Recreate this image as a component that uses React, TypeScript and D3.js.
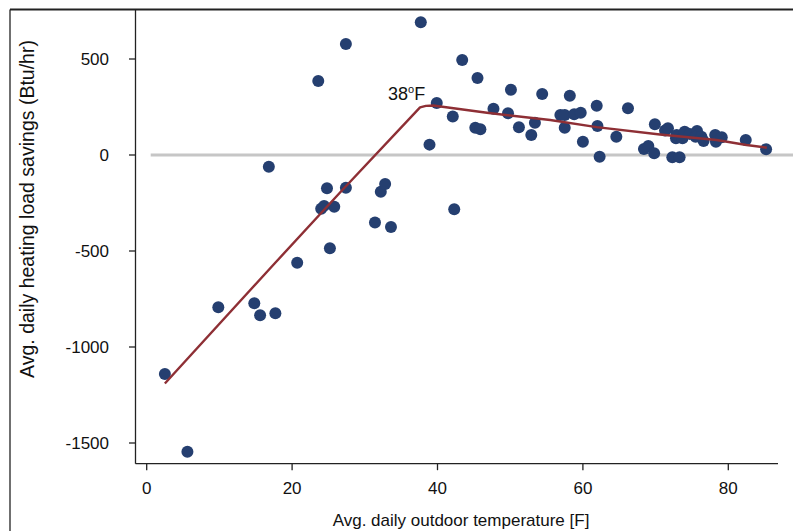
import React from "react";
import * as d3 from "d3";

const tempX: number[] = [
  2.5, 5.6, 9.85, 14.8, 15.6, 17.7, 20.7, 25.2, 16.8, 23.6, 27.4, 24.8, 27.4,
  24.0, 24.4, 25.8, 31.4, 32.2, 32.8, 33.6, 37.7, 43.4, 45.5, 39.9, 42.1, 38.9,
  42.3, 45.2, 45.9, 47.7, 50.1, 49.7, 51.2, 53.4, 52.9, 54.4, 56.9, 57.5, 57.5,
  58.8, 59.7, 58.2, 60.0, 61.9, 62.0, 62.3, 64.6, 66.2, 68.4, 69.0, 69.8, 69.9,
  71.3, 71.7, 72.3, 73.3, 72.8, 72.9, 73.7, 74.0, 74.7, 75.7, 75.5, 76.6, 76.3,
  78.2, 78.3, 79.1, 82.4, 85.2,
];
const savingsY: number[] = [
  -1141, -1545, -793, -772, -835, -824, -561, -486, -61, 385, 578, -173, -170,
  -280, -265, -270, -351, -191, -151, -375, 691, 495, 401, 271, 201, 54, -283,
  142, 134, 241, 340, 217, 144, 168, 104, 318, 208, 208, 142, 212, 220, 309, 69,
  257, 151, -9, 95, 243, 31, 47, 9, 160, 127, 139, -12, -12, 87, 104, 87, 121,
  110, 125, 95, 73, 95, 104, 69, 92, 78, 30,
];

const fitX: number[] = [2.5, 17.4, 26.5, 37.6, 38.4, 39.4, 46.8, 55.5, 61.9, 70.6, 78.4, 82.5, 85.3];
const fitY: number[] = [-1190, -573, -199, 248, 256, 258, 220, 182, 145, 107, 78, 52, 38];

const xTicks: number[] = [0, 20, 40, 60, 80];
const yTicks: number[] = [500, 0, -500, -1000, -1500];

const xTitle = "Avg. daily outdoor temperature [F]";
const yTitle = "Avg. daily heating load savings (Btu/hr)";

export default function App() {
  const W = 793;
  const H = 531;
  const left = 135.5;
  const right = 778;
  const top = 9.5;
  const bottom = 463.7;

  const x = d3.scaleLinear().domain([0, 80]).range([146.7, 728.3]);
  const y = d3.scaleLinear().domain([500, -1500]).range([59, 443]);

  const line = d3
    .line<number>()
    .x((_, i) => x(fitX[i]))
    .y((_, i) => y(fitY[i]));

  const font = "'Liberation Sans', Arial, Helvetica, sans-serif";
  const navy = "#253f70";

  return (
    <svg
      width={W}
      height={H}
      style={{ position: "absolute", left: 0, top: 0, background: "#fff" }}
      fontFamily={font}
    >
      <rect x={0} y={0} width={W} height={H} fill="#fff" />
      {/* outer frame */}
      <line x1={10} y1={9.5} x2={W} y2={9.5} stroke="#222" strokeWidth={2} />
      <line x1={10} y1={9.5} x2={10} y2={H} stroke="#222" strokeWidth={1.3} />

      {/* zero reference line */}
      <line
        x1={x(0.55)}
        x2={W}
        y1={y(0)}
        y2={y(0)}
        stroke="#c6c6c6"
        strokeWidth={3}
      />

      {/* axes */}
      <line x1={left} y1={top} x2={left} y2={bottom} stroke="#222" strokeWidth={1.3} />
      <line x1={left} y1={bottom} x2={right} y2={bottom} stroke="#222" strokeWidth={1.3} />

      {yTicks.map((t) => (
        <g key={"y" + t}>
          <line x1={left - 6.5} x2={left} y1={y(t)} y2={y(t)} stroke="#222" strokeWidth={1.3} />
          <text
            x={109}
            y={y(t)}
            dy="0.36em"
            textAnchor="end"
            fontSize={17}
            fill="#111"
          >
            {t}
          </text>
        </g>
      ))}
      {xTicks.map((t) => (
        <g key={"x" + t}>
          <line x1={x(t)} x2={x(t)} y1={bottom} y2={bottom + 6.5} stroke="#222" strokeWidth={1.3} />
          <text x={x(t)} y={493.5} textAnchor="middle" fontSize={17} fill="#111">
            {t}
          </text>
        </g>
      ))}

      <text x={461} y={526} textAnchor="middle" fontSize={17} fill="#111">
        {xTitle}
      </text>
      <text
        transform={`translate(34, 209) rotate(-90)`}
        textAnchor="middle"
        fontSize={19.5}
        fill="#111"
      >
        {yTitle}
      </text>

      {/* points */}
      {tempX.map((t, i) => (
        <circle key={"p" + i} cx={x(t)} cy={y(savingsY[i])} r={6} fill={navy} />
      ))}

      {/* fitted piecewise line */}
      <path
        d={line(fitX) || ""}
        fill="none"
        stroke="#8e2f35"
        strokeWidth={2.4}
        strokeLinejoin="round"
      />

      {/* breakpoint annotation */}
      <text x={388} y={99.5} fontSize={18} fill="#111">
        38
        <tspan fontSize={11} dy={-7}>
          o
        </tspan>
        <tspan dy={7}>F</tspan>
      </text>
    </svg>
  );
}
